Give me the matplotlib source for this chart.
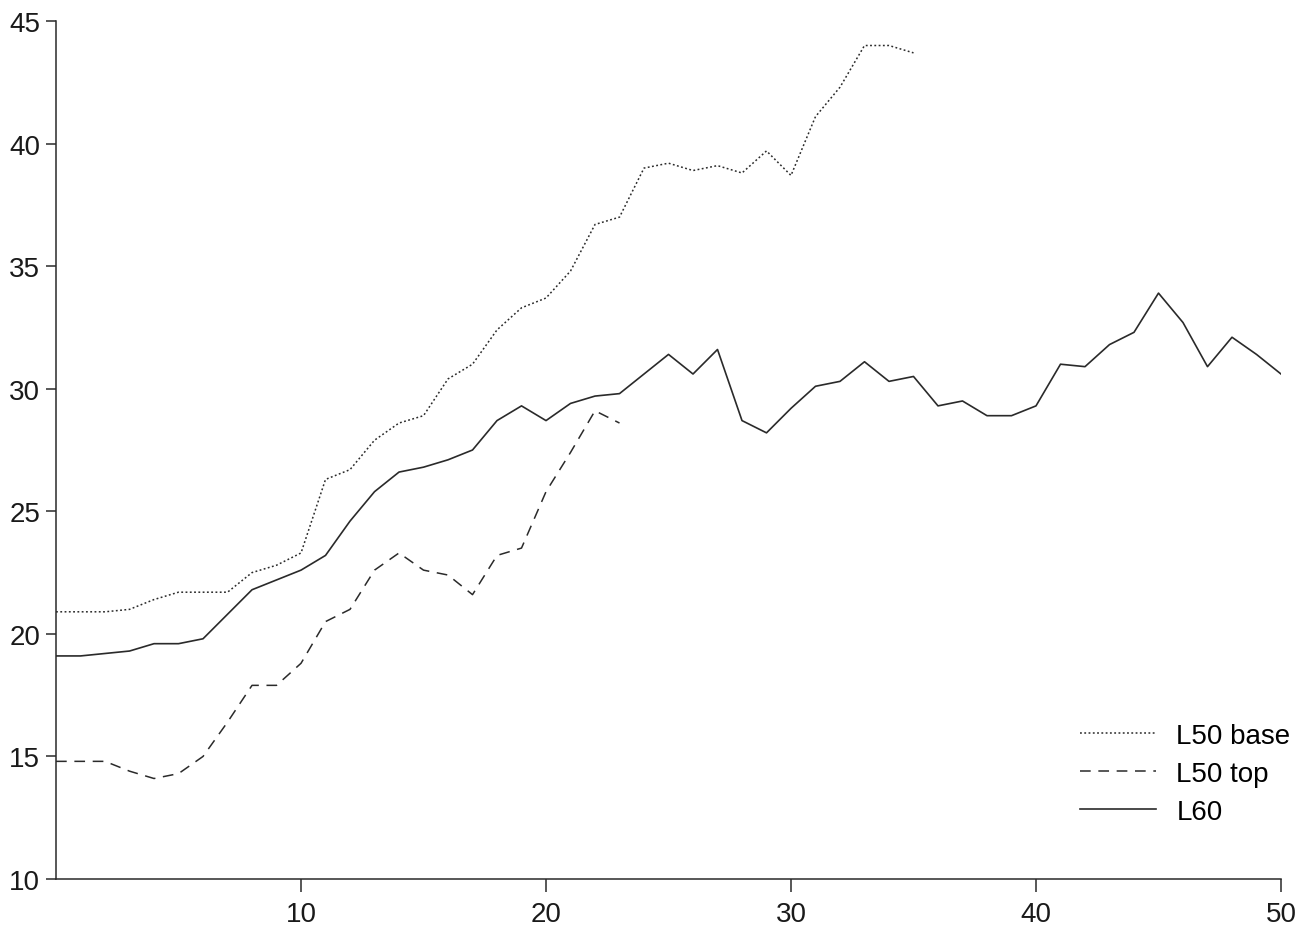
import numpy as np
import matplotlib.pyplot as plt

plt.rcParams['font.family'] = ['Liberation Sans', 'DejaVu Sans']

# ===========================
# Dados
# ===========================

x_base = list(range(0, 36))
l50_base = [20.9, 20.9, 20.9, 21.0, 21.4, 21.7, 21.7, 21.7, 22.5, 22.8,
            23.3, 26.3, 26.7, 27.9, 28.6, 28.9, 30.4, 31.0, 32.4, 33.3,
            33.7, 34.8, 36.7, 37.0, 39.0, 39.2, 38.9, 39.1, 38.8, 39.7,
            38.7, 41.1, 42.3, 44.0, 44.0, 43.7]

x_top = list(range(0, 24))
l50_top = [14.8, 14.8, 14.8, 14.4, 14.1, 14.3, 15.0, 16.4, 17.9, 17.9,
           18.8, 20.5, 21.0, 22.6, 23.3, 22.6, 22.4, 21.6, 23.2, 23.5,
           25.8, 27.4, 29.1, 28.6]

x_l60 = list(range(0, 51))
l60 = [19.1, 19.1, 19.2, 19.3, 19.6, 19.6, 19.8, 20.8, 21.8, 22.2,
       22.6, 23.2, 24.6, 25.8, 26.6, 26.8, 27.1, 27.5, 28.7, 29.3,
       28.7, 29.4, 29.7, 29.8, 30.6, 31.4, 30.6, 31.6, 28.7, 28.2,
       29.2, 30.1, 30.3, 31.1, 30.3, 30.5, 29.3, 29.5, 28.9, 28.9,
       29.3, 31.0, 30.9, 31.8, 32.3, 33.9, 32.7, 30.9, 32.1, 31.4,
       30.6]

series_labels = ['L50 base', 'L50 top', 'L60']

# ===========================
# Gráfico
# ===========================

fig = plt.figure(figsize=(13.09, 9.28), dpi=100)
ax = fig.add_axes([0.0428, 0.0517, 0.9358, 0.9246])

cor = '#2a2a2a'
ax.plot(x_base, l50_base, color=cor, lw=1.1, linestyle=(0, (1.2, 1.6)), label=series_labels[0])
ax.plot(x_top, l50_top, color=cor, lw=1.1, linestyle=(0, (7, 5)), label=series_labels[1])
ax.plot(x_l60, l60, color=cor, lw=1.2, linestyle='-', label=series_labels[2])

ax.set_xlim(0, 50)
ax.set_ylim(10, 45)
ax.set_xticks([10, 20, 30, 40, 50])
ax.set_yticks([10, 15, 20, 25, 30, 35, 40, 45])

for lado in ['top', 'right']:
    ax.spines[lado].set_visible(False)
for lado in ['left', 'bottom']:
    ax.spines[lado].set_color(cor)
    ax.spines[lado].set_linewidth(1.1)

ax.tick_params(axis='both', direction='out', width=1.1, color=cor,
               labelsize=20, labelcolor='#1a1a1a')
ax.tick_params(axis='y', length=7.5, pad=4)
ax.tick_params(axis='x', length=9.5, pad=6)

leg = ax.legend(loc='center left', bbox_to_anchor=(0.836, 0.1224), frameon=False,
                fontsize=20, handlelength=2.75, handletextpad=0.72, labelspacing=0.44,
                borderpad=0, borderaxespad=0)

fig.savefig('out.png', dpi=100)
